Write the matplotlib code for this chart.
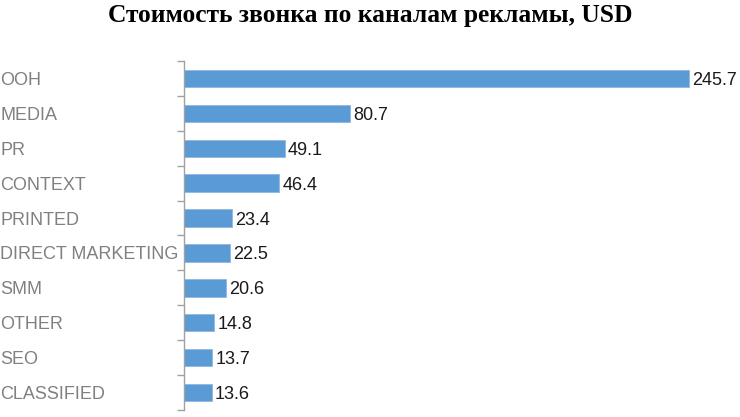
import numpy as np
import matplotlib.pyplot as plt
from matplotlib.transforms import blended_transform_factory

channels = ['OOH', 'MEDIA', 'PR', 'CONTEXT', 'PRINTED', 'DIRECT MARKETING',
            'SMM', 'OTHER', 'SEO', 'CLASSIFIED']
cost = [245.7, 80.7, 49.1, 46.4, 23.4, 22.5, 20.6, 14.8, 13.7, 13.6]

fig = plt.figure(figsize=(7.4, 4.17), dpi=100)
ax = fig.add_axes([184 / 740, 1 - 410 / 417, 536 / 740, 349 / 417])

y = np.arange(len(channels))
bars = ax.barh(y, cost, height=0.5, color='#5b9bd5', edgecolor='#8fb8e0', linewidth=0.6)

ax.set_ylim(len(channels) - 0.5, -0.5)
ax.set_xlim(0, 261)

for s in ['top', 'right', 'bottom']:
    ax.spines[s].set_visible(False)
ax.spines['left'].set_color('#a0a0a0')
ax.spines['left'].set_linewidth(1)
ax.set_xticks([])
ax.set_yticks(np.arange(-0.5, len(channels), 1))
ax.set_yticklabels([])
ax.tick_params(axis='y', length=5, width=1, color='#a0a0a0')

tr = blended_transform_factory(fig.transFigure, ax.transData)
for yi, name in zip(y, channels):
    ax.text(0.0, yi, name, transform=tr, ha='left', va='center_baseline',
            fontsize=13, color='#808080', family='Liberation Sans')

for yi, v in zip(y, cost):
    ax.annotate(f'{v:.1f}', (v, yi), xytext=(2.2, 0), textcoords='offset points',
                ha='left', va='center_baseline', fontsize=13, color='#1a1a1a',
                family='Liberation Sans')

fig.text(0.5, 0.962, 'Стоимость звонка по каналам рекламы, USD', ha='center', va='center',
         fontsize=18.4, fontweight='bold', family='Liberation Serif')

fig.savefig('out.png', dpi=100)
